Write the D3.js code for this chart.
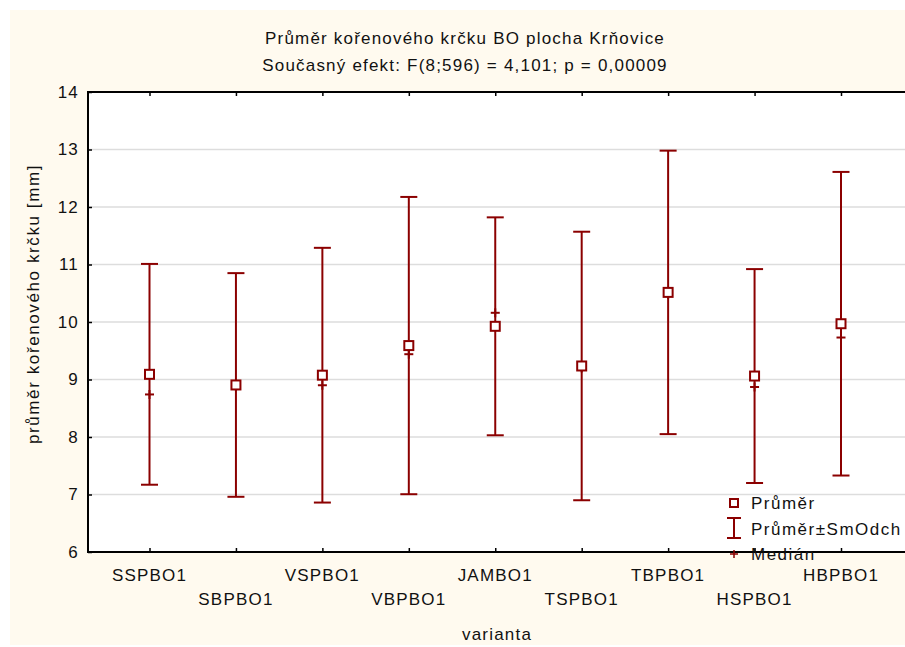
<!DOCTYPE html>
<html>
<head>
<meta charset="utf-8">
<script src="https://cdn.jsdelivr.net/npm/d3@7"></script>
<style>
  html, body { margin: 0; padding: 0; background: #ffffff; }
  svg { display: block; font-family: "Liberation Sans", Arial, sans-serif; }
</style>
</head>
<body>
<svg id="chart" width="905" height="647"></svg>
<script>
// Kořenový krček – průměr ± směrodatná odchylka a medián podle varianty
const categories = ["SSPBO1", "SBPBO1", "VSPBO1", "VBPBO1", "JAMBO1", "TSPBO1", "TBPBO1", "HSPBO1", "HBPBO1"];
const means   = [9.09, 8.905, 9.075, 9.59, 9.925, 9.235, 10.515, 9.06, 9.97];
const sds     = [1.92, 1.945, 2.215, 2.585, 1.895, 2.335, 2.465, 1.86, 2.64];
const medians = [8.74, 8.88, 8.90, 9.44, 10.16, 9.20, 10.48, 8.87, 9.73];
const yTicks  = [6, 7, 8, 9, 10, 11, 12, 13, 14];

const title = "Průměr kořenového krčku BO plocha Krňovice";
const subtitle = "Současný efekt: F(8;596) = 4,101; p = 0,00009";
const xTitle = "varianta";
const yTitle = "průměr kořenového krčku [mm]";
const legendLabels = ["Průměr", "Průměr±SmOdch", "Medián"];

const color = "#8b0000";
const svg = d3.select("#chart");

// cream panel
svg.append("rect").attr("x", 10).attr("y", 10).attr("width", 895).attr("height", 635).attr("fill", "#fffaef");

const plot = { left: 88, top: 92, right: 915, bottom: 552 };

svg.append("rect")
  .attr("x", plot.left).attr("y", plot.top)
  .attr("width", plot.right - plot.left).attr("height", plot.bottom - plot.top)
  .attr("fill", "#ffffff");

const x = d3.scalePoint().domain(categories).range([149.5, 841]);
const y = d3.scaleLinear().domain([6, 14]).range([plot.bottom, plot.top]);

// grid
svg.append("g").selectAll("line")
  .data(yTicks.filter(t => t > 6 && t < 14))
  .join("line")
  .attr("x1", plot.left).attr("x2", plot.right)
  .attr("y1", d => y(d)).attr("y2", d => y(d))
  .attr("stroke", "#dddddd").attr("stroke-width", 1.5);

const textStyle = sel => sel.attr("font-size", 17).attr("letter-spacing", 1.2).attr("fill", "#111");

// y axis
const yAxis = svg.append("g").attr("transform", `translate(${plot.left},0)`)
  .call(d3.axisLeft(y).tickValues(yTicks).tickSize(-4).tickPadding(9).tickFormat(d3.format("d")));
yAxis.select(".domain").remove();
yAxis.selectAll(".tick line").attr("stroke", "#000").attr("stroke-width", 1.5);
yAxis.selectAll(".tick text").call(textStyle).attr("font-family", null);

// bottom and top x axes (ticks only)
const xb = svg.append("g").attr("transform", `translate(0,${plot.bottom})`)
  .call(d3.axisBottom(x).tickSize(-4).tickFormat(""));
xb.select(".domain").remove();
xb.selectAll(".tick line").attr("stroke", "#000").attr("stroke-width", 1.5);
const xt = svg.append("g").attr("transform", `translate(0,${plot.top})`)
  .call(d3.axisTop(x).tickSize(-4).tickFormat(""));
xt.select(".domain").remove();
xt.selectAll(".tick line").attr("stroke", "#000").attr("stroke-width", 1.5);

// staggered category labels
svg.append("g").selectAll("text")
  .data(categories)
  .join("text")
  .attr("x", d => x(d))
  .attr("y", (d, i) => i % 2 === 0 ? 581 : 605)
  .attr("text-anchor", "middle")
  .call(textStyle)
  .text(d => d);

// frame
svg.append("path")
  .attr("d", `M${plot.right},${plot.top}H${plot.left}V${plot.bottom}H${plot.right}`)
  .attr("fill", "none").attr("stroke", "#000").attr("stroke-width", 2);

// error bars
const g = svg.append("g").attr("stroke", color).attr("stroke-width", 2).attr("fill", "none");
const capW = 8.5;
categories.forEach((c, i) => {
  const cx = x(c), lo = y(means[i] - sds[i]), hi = y(means[i] + sds[i]);
  g.append("line").attr("x1", cx).attr("x2", cx).attr("y1", lo).attr("y2", hi);
  g.append("line").attr("x1", cx - capW).attr("x2", cx + capW).attr("y1", hi).attr("y2", hi);
  g.append("line").attr("x1", cx - capW).attr("x2", cx + capW).attr("y1", lo).attr("y2", lo);
  const my = y(medians[i]);
  g.append("line").attr("x1", cx - 4.5).attr("x2", cx + 4.5).attr("y1", my).attr("y2", my);
  g.append("line").attr("x1", cx).attr("x2", cx).attr("y1", my - 4.5).attr("y2", my + 4.5);
  g.append("rect").attr("x", cx - 4.5).attr("y", y(means[i]) - 4.5).attr("width", 9).attr("height", 9)
    .attr("fill", "#ffffff");
});

// titles
svg.append("text").attr("x", 465).attr("y", 44).attr("text-anchor", "middle").call(textStyle).text(title);
svg.append("text").attr("x", 465).attr("y", 71).attr("text-anchor", "middle").call(textStyle).text(subtitle);
svg.append("text").attr("x", 497).attr("y", 640).attr("text-anchor", "middle").call(textStyle).text(xTitle);
svg.append("text").attr("transform", "translate(39,304) rotate(-90)").attr("text-anchor", "middle")
  .call(textStyle).attr("letter-spacing", 1.6).text(yTitle);

// legend
const lg = svg.append("g");
const lx = 734;
lg.append("rect").attr("x", lx - 4).attr("y", 499).attr("width", 8).attr("height", 8)
  .attr("fill", "#fff").attr("stroke", color).attr("stroke-width", 2);
lg.append("path").attr("d", `M${lx - 7},518H${lx + 7}M${lx},518V538M${lx - 7},538H${lx + 7}`)
  .attr("stroke", color).attr("stroke-width", 2);
lg.append("path").attr("d", `M${lx - 4},554H${lx + 4}M${lx},550V558`)
  .attr("stroke", color).attr("stroke-width", 1.5);
lg.selectAll("text").data(legendLabels).join("text")
  .attr("x", 751).attr("y", (d, i) => 509 + i * 25.5)
  .call(textStyle).attr("letter-spacing", 1.5).text(d => d);
</script>
</body>
</html>
